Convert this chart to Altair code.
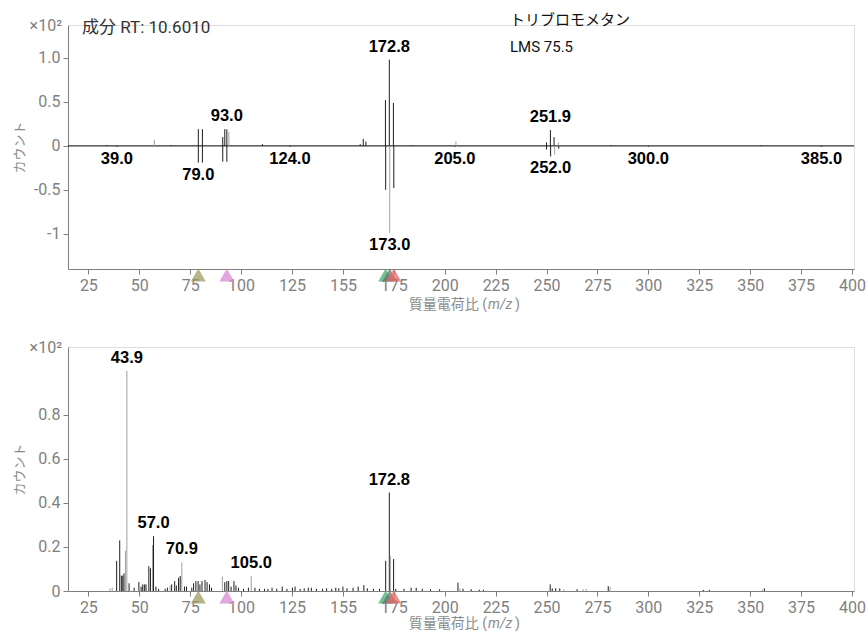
import altair as alt
import pandas as pd

# ---------------- data ----------------
X_TICKS = [25, 50, 75, 100, 125, 150, 175, 200, 225, 250, 275, 300, 325, 350, 375, 400]

# upper panel, acquired spectrum (drawn upward, x10^2 counts)
acq_mz = [34.0, 57.4, 65.7, 79.0, 81.0, 91.0, 92.0, 93.0, 94.0, 110.5, 158.5,
          160.0, 161.3, 170.9, 172.8, 174.8, 183.7, 205.5, 250.0, 251.9,
          253.7, 255.8, 281.7, 355.5]
acq_int = [0.01, 0.07, 0.01, 0.19, 0.19, 0.10, 0.19, 0.19, 0.16, 0.02, 0.02,
           0.08, 0.05, 0.52, 0.98, 0.49, 0.01, 0.05, 0.04, 0.18,
           0.10, 0.04, 0.01, 0.01]
acq_shade = ["d", "l", "d", "d", "d", "d", "d", "d", "l", "d", "d",
             "d", "d", "d", "d", "d", "d", "l", "d", "d",
             "d", "l", "d", "d"]

# upper panel, library spectrum (mirrored downward)
lib_mz = [39.0, 79.0, 81.0, 91.0, 93.0, 124.0, 171.0, 173.0, 175.0, 205.0,
          250.0, 252.0, 254.0, 256.0, 300.0, 385.0]
lib_int = [-0.01, -0.19, -0.19, -0.18, -0.18, -0.01, -0.50, -0.99, -0.48, -0.01,
           -0.04, -0.12, -0.10, -0.03, -0.01, -0.01]
lib_shade = ["d", "d", "d", "d", "d", "d", "d", "l", "d", "d",
             "d", "d", "l", "d", "d", "d"]

acq_labels = [93.0, 172.8, 251.9]
lib_labels = [39.0, 79.0, 124.0, 173.0, 205.0, 252.0, 300.0, 385.0]

# lower panel, raw spectrum (x10^2 counts)
raw_mz = [35.6, 36.7, 38.9, 40.4, 41.2, 41.9, 42.5, 43.2, 43.9, 45.0,
          47.5, 49.8, 50.9, 51.7, 52.5, 53.3, 54.7, 55.5, 56.5, 57.0,
          58.2, 59.5, 62.7, 63.8, 65.1, 65.9, 67.4, 68.2, 69.3, 70.1,
          70.9, 72.2, 73.2, 75.8, 76.7, 77.8, 78.9, 79.8, 80.8, 82.3,
          83.3, 84.5, 85.5, 90.8, 92.0, 93.0, 93.9, 95.1, 96.5, 97.5,
          98.7, 101.2, 103.6, 105.0, 106.8, 109.0, 111.5, 113.2, 115.2, 117.5,
          120.2, 122.5, 125.2, 126.5, 129.0, 131.0, 133.0, 134.5, 137.0, 140.0,
          142.0, 144.5, 146.5, 148.0, 150.0, 152.0, 155.0, 157.5, 160.3, 162.0,
          165.0, 168.0, 171.0, 172.8, 173.3, 174.9, 176.0, 180.0, 183.5, 186.0,
          189.0, 193.0, 197.5, 206.5, 207.5, 209.0, 213.0, 217.0, 219.0, 251.8,
          252.8, 254.5, 256.5, 258.5, 265.0, 268.0, 269.5, 280.3, 281.2, 327.0,
          330.0, 356.0, 357.0]
raw_int = [0.012, 0.015, 0.137, 0.230, 0.070, 0.070, 0.080, 0.183, 1.000, 0.035,
           0.015, 0.040, 0.020, 0.030, 0.030, 0.030, 0.113, 0.103, 0.209, 0.249,
           0.020, 0.010, 0.010, 0.015, 0.025, 0.030, 0.045, 0.025, 0.060, 0.068,
           0.130, 0.020, 0.020, 0.015, 0.035, 0.045, 0.045, 0.030, 0.045, 0.050,
           0.040, 0.030, 0.015, 0.065, 0.040, 0.045, 0.045, 0.020, 0.045, 0.025,
           0.015, 0.010, 0.015, 0.068, 0.015, 0.010, 0.010, 0.010, 0.015, 0.010,
           0.020, 0.010, 0.015, 0.020, 0.010, 0.012, 0.015, 0.015, 0.010, 0.010,
           0.012, 0.010, 0.015, 0.012, 0.020, 0.012, 0.015, 0.020, 0.027, 0.012,
           0.010, 0.010, 0.137, 0.447, 0.159, 0.145, 0.010, 0.010, 0.015, 0.015,
           0.010, 0.008, 0.008, 0.038, 0.012, 0.010, 0.008, 0.006, 0.006, 0.030,
           0.012, 0.012, 0.012, 0.008, 0.008, 0.008, 0.010, 0.022, 0.018, 0.005,
           0.005, 0.006, 0.012]
raw_shade = ["l", "l", "d", "d", "d", "d", "d", "l", "l", "d",
             "d", "d", "d", "d", "d", "d", "d", "d", "l", "d",
             "d", "d", "d", "d", "l", "d", "d", "d", "d", "d",
             "l", "d", "d", "d", "d", "d", "d", "d", "d", "d",
             "d", "d", "d", "l", "d", "d", "d", "d", "d", "d",
             "d", "d", "d", "l", "d", "d", "d", "d", "d", "d",
             "d", "d", "d", "d", "d", "d", "d", "d", "d", "d",
             "d", "d", "d", "d", "d", "d", "d", "d", "d", "d",
             "d", "d", "d", "d", "l", "d", "d", "d", "d", "d",
             "d", "d", "d", "d", "l", "d", "d", "d", "d", "d",
             "d", "d", "d", "l", "d", "l", "l", "d", "l", "d",
             "d", "l", "d"]
raw_labels = [43.9, 57.0, 70.9, 105.0, 172.8]

# ion markers along the m/z axis
ion_mz = [79.0, 93.0, 171.0, 173.0, 175.0]
ion_name = ["i79", "i93", "i171", "i173", "i175"]

# ---------------- styling ----------------
W = 786
H_TOP = 244
H_BOT = 244
GREY = "#7f7f7f"
LABEL_FONT = "Liberation Sans"
CJK = "Noto Sans CJK JP"
MIXED = "Roboto, Noto Sans CJK JP"

shade_scale = alt.Scale(domain=["d", "l"], range=["#1e1e1e", "#a0a0a0"])
ion_scale = alt.Scale(domain=ion_name,
                      range=["#9d9c5c", "#d88bd3", "#3fae70", "#6f6f6f", "#e86a6a"])
x_scale = alt.Scale(domain=[15, 401], nice=False, zero=False)

x_axis = alt.Axis(values=X_TICKS, title=None, grid=False,
                  labelExpr="datum.value == 150 ? '155' : datum.label",
                  labelFont="Roboto", labelFontSize=16, labelColor=GREY,
                  domainColor=GREY, tickColor=GREY, tickSize=5, labelPadding=3)


def y_axis(values, label_expr, h):
    return alt.Axis(values=values, grid=False, title="カウント",
                    titleFont=CJK, titleFontSize=13, titleColor="#8c8c8c",
                    titleFontWeight="normal", titleX=-49, titleY=h / 2,
                    titleBaseline="middle", titleAngle=-90,
                    labelExpr=label_expr,
                    labelFont="Roboto", labelFontSize=16, labelColor=GREY,
                    domainColor=GREY, tickColor=GREY, tickSize=5, labelPadding=3)


def peaks_df(mz, inten, shade):
    return pd.DataFrame({"mz": mz, "int": inten, "shade": shade, "base": 0.0})


def label_df(mz, inten, wanted):
    rows = [(m, v) for m, v in zip(mz, inten) if m in wanted]
    return pd.DataFrame({"mz": [r[0] for r in rows], "int": [r[1] for r in rows],
                         "txt": [f"{r[0]:.1f}" for r in rows]})


def mz_title(yoff):
    # axis title with an italic m/z
    y = alt.value(yoff)
    base = alt.Chart(pd.DataFrame({"k": [0]}))
    a = base.mark_text(align="right", baseline="middle", font=MIXED, fontSize=14,
                       color="#8c8c8c").encode(x=alt.value(419), y=y, text=alt.value("質量電荷比 ("))
    b = base.mark_text(align="left", baseline="middle", font="Roboto", fontSize=14,
                       fontStyle="italic", color="#8c8c8c").encode(x=alt.value(420), y=y, text=alt.value("m/z"))
    c = base.mark_text(align="left", baseline="middle", font=MIXED, fontSize=14,
                       color="#8c8c8c").encode(x=alt.value(447), y=y, text=alt.value(")"))
    return [a, b, c]


def ion_layer(h):
    df = pd.DataFrame({"mz": ion_mz, "ion": ion_name})
    return alt.Chart(df).mark_point(shape="triangle-up", filled=True, size=225,
                                    opacity=0.75, strokeWidth=0).encode(
        x=alt.X("mz:Q", scale=x_scale),
        y=alt.value(h + 6),
        color=alt.Color("ion:N", scale=ion_scale, legend=None))


def x10_layer():
    return alt.Chart(pd.DataFrame({"k": [0]})).mark_text(
        align="right", baseline="middle", font="Roboto", fontSize=16, color=GREY
    ).encode(x=alt.value(-6), y=alt.value(1), text=alt.value("×10²"))


# ---------------- upper (mirror) panel ----------------
acq = peaks_df(acq_mz, acq_int, acq_shade)
lib = peaks_df(lib_mz, lib_int, lib_shade)
both = pd.concat([acq, lib], ignore_index=True)

top_y = alt.Scale(domain=[-1.4, 1.375], nice=False, zero=False)
top_expr = ("datum.value == 1 ? '1.0' : datum.value == 0.5 ? '0.5' : "
            "datum.value == -0.5 ? '-0.5' : datum.value == -1 ? '-1' : '0'")

top_peaks = alt.Chart(both).mark_rule(strokeWidth=1).encode(
    x=alt.X("mz:Q", scale=x_scale, axis=x_axis),
    y=alt.Y("int:Q", scale=top_y, axis=y_axis([-1, -0.5, 0, 0.5, 1], top_expr, H_TOP)),
    y2="base:Q",
    color=alt.Color("shade:N", scale=shade_scale, legend=None))

zero_line = alt.Chart(pd.DataFrame({"y": [0.0]})).mark_rule(
    color="#000000", strokeWidth=1).encode(y=alt.Y("y:Q", scale=top_y))

up_lab = alt.Chart(label_df(acq_mz, acq_int, acq_labels)).mark_text(
    baseline="bottom", dy=-5, font=LABEL_FONT, fontSize=16.5, fontWeight="bold",
    color="#000000").encode(
    x=alt.X("mz:Q", scale=x_scale), y=alt.Y("int:Q", scale=top_y), text="txt:N")
down_lab = alt.Chart(label_df(lib_mz, lib_int, lib_labels)).mark_text(
    baseline="top", dy=4, font=LABEL_FONT, fontSize=16.5, fontWeight="bold",
    color="#000000").encode(
    x=alt.X("mz:Q", scale=x_scale), y=alt.Y("int:Q", scale=top_y), text="txt:N")

notes = alt.Chart(pd.DataFrame({"k": [0]}))
rt_note = notes.mark_text(align="left", baseline="middle", font=MIXED, fontSize=17,
                          color="#333333").encode(
    x=alt.value(14), y=alt.value(3), text=alt.value("成分 RT: 10.6010"))
name_note = notes.mark_text(align="left", baseline="middle", font=CJK, fontSize=15,
                            color="#111111").encode(
    x=alt.value(442), y=alt.value(-5), text=alt.value("トリブロモメタン"))
lms_note = notes.mark_text(align="left", baseline="middle", font=MIXED, fontSize=15,
                           color="#111111").encode(
    x=alt.value(442), y=alt.value(22), text=alt.value("LMS 75.5"))

top = alt.layer(zero_line, top_peaks, up_lab, down_lab, ion_layer(H_TOP),
                x10_layer(), rt_note, name_note, lms_note,
                *mz_title(H_TOP + 36)).resolve_scale(
    color="independent").properties(width=W, height=H_TOP)

# ---------------- lower (raw) panel ----------------
raw = peaks_df(raw_mz, raw_int, raw_shade)
bot_y = alt.Scale(domain=[0, 1.108], nice=False, zero=False)

bot_peaks = alt.Chart(raw).mark_rule(strokeWidth=1).encode(
    x=alt.X("mz:Q", scale=x_scale, axis=x_axis),
    y=alt.Y("int:Q", scale=bot_y,
            axis=y_axis([0, 0.2, 0.4, 0.6, 0.8], "datum.value == 0 ? '0' : datum.label", H_BOT)),
    y2="base:Q",
    color=alt.Color("shade:N", scale=shade_scale, legend=None))

bot_lab = alt.Chart(label_df(raw_mz, raw_int, raw_labels)).mark_text(
    baseline="bottom", dy=-5, font=LABEL_FONT, fontSize=16.5, fontWeight="bold",
    color="#000000").encode(
    x=alt.X("mz:Q", scale=x_scale), y=alt.Y("int:Q", scale=bot_y), text="txt:N")

bottom = alt.layer(bot_peaks, bot_lab, ion_layer(H_BOT), x10_layer(),
                   *mz_title(H_BOT + 33)).resolve_scale(
    color="independent").properties(width=W, height=H_BOT)

chart = alt.vconcat(top, bottom, spacing=26).properties(
    padding={"left": 12, "top": 12, "right": 0, "bottom": 0}
).configure_view(stroke=None).configure(background="white")

chart.save("out.html", embed_options={"renderer": "svg", "actions": False})
